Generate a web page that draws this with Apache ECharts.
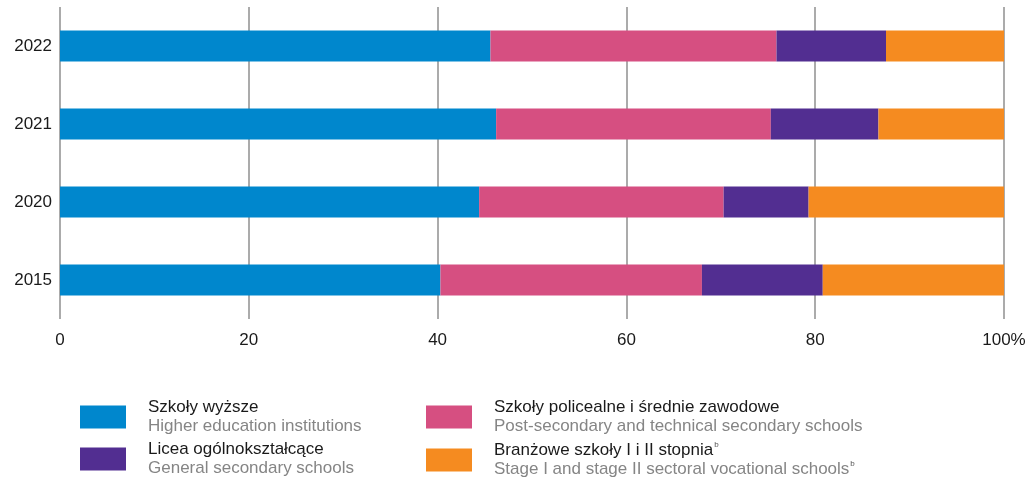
<!DOCTYPE html>
<html>
<head>
<meta charset="utf-8">
<script src="https://cdn.jsdelivr.net/npm/echarts@6/dist/echarts.min.js"></script>
<style>
  html, body { margin: 0; padding: 0; background: #fff; }
  #chart { width: 1035px; height: 479px; }
</style>
</head>
<body>
<div id="chart"></div>
<script>
// lata (od góry)
var years = ['2022', '2021', '2020', '2015'];

// udziały w % dla każdego roku
var higherEdu   = [45.6, 46.2, 44.4, 40.3];
var postSecTech = [30.3, 29.1, 25.9, 27.7];
var generalSec  = [11.6, 11.4, 9.0, 12.8];
var sectoral    = [12.5, 13.3, 20.7, 19.2];

var xTicks = [0, 20, 40, 60, 80, 100];

var names = {
    higher: 'Szkoły wyższe',
    post: 'Szkoły policealne i średnie zawodowe',
    general: 'Licea ogólnokształcące',
    sectoral: 'Branżowe szkoły I i II stopnia'
};
var subNames = {};
subNames[names.higher] = 'Higher education institutions';
subNames[names.post] = 'Post-secondary and technical secondary schools';
subNames[names.general] = 'General secondary schools';
subNames[names.sectoral] = 'Stage I and stage II sectoral vocational schools';

var colors = {
    higher: '#0087cd',
    post: '#d64f81',
    general: '#522e91',
    sectoral: '#f58b20'
};

var FONT = 'Liberation Sans, Arial, sans-serif';

var chart = echarts.init(document.getElementById('chart'));

function legendFormatter(name) {
    if (name === names.sectoral) {
        return '{a|' + name + '}{s|b}\n{b|' + subNames[name] + '}{s|b}';
    }
    return '{a|' + name + '}\n{b|' + subNames[name] + '}';
}

var legendText = {
    padding: [0, 0, 0, 17],
    rich: {
        a: { fontFamily: FONT, fontSize: 17, color: '#1a1a1a', lineHeight: 19 },
        b: { fontFamily: FONT, fontSize: 17, color: '#858585', lineHeight: 19 },
        s: { fontFamily: FONT, fontSize: 8, color: '#555', verticalAlign: 'top', lineHeight: 10, padding: [0, 0, 0, 1] }
    }
};

function makeLegend(left, items) {
    return {
        orient: 'vertical',
        left: left,
        top: 399,
        padding: 0,
        itemWidth: 46,
        itemHeight: 23,
        itemGap: 6,
        icon: 'rect',
        selectedMode: false,
        data: items,
        formatter: legendFormatter,
        textStyle: legendText
    };
}

function makeBar(name, data, color) {
    return {
        name: name,
        type: 'bar',
        stack: 'total',
        barWidth: 31,
        itemStyle: { color: color },
        emphasis: { disabled: true },
        data: data
    };
}

var option = {
    animation: false,
    backgroundColor: '#fff',
    grid: { left: 60, right: 31, top: 7, bottom: 160 },
    legend: [
        makeLegend(80, [names.higher, names.general]),
        makeLegend(426, [names.post, names.sectoral])
    ],
    xAxis: {
        type: 'value',
        min: xTicks[0],
        max: xTicks[xTicks.length - 1],
        interval: 20,
        axisLine: { show: false },
        axisTick: { show: false },
        axisLabel: {
            margin: 13,
            fontFamily: FONT,
            fontSize: 17,
            color: '#1a1a1a',
            formatter: function (v) { return v === 100 ? '100%' : String(v); }
        },
        splitLine: { show: true, lineStyle: { color: '#8f8f8f', width: 1.5 } }
    },
    yAxis: {
        type: 'category',
        inverse: true,
        data: years,
        axisLine: { show: false },
        axisTick: { show: false },
        axisLabel: {
            margin: 8,
            fontFamily: FONT,
            fontSize: 17,
            color: '#1a1a1a'
        }
    },
    series: [
        makeBar(names.higher, higherEdu, colors.higher),
        makeBar(names.post, postSecTech, colors.post),
        makeBar(names.general, generalSec, colors.general),
        makeBar(names.sectoral, sectoral, colors.sectoral)
    ]
};

chart.setOption(option);
window.onresize = chart.resize;
</script>
</body>
</html>
